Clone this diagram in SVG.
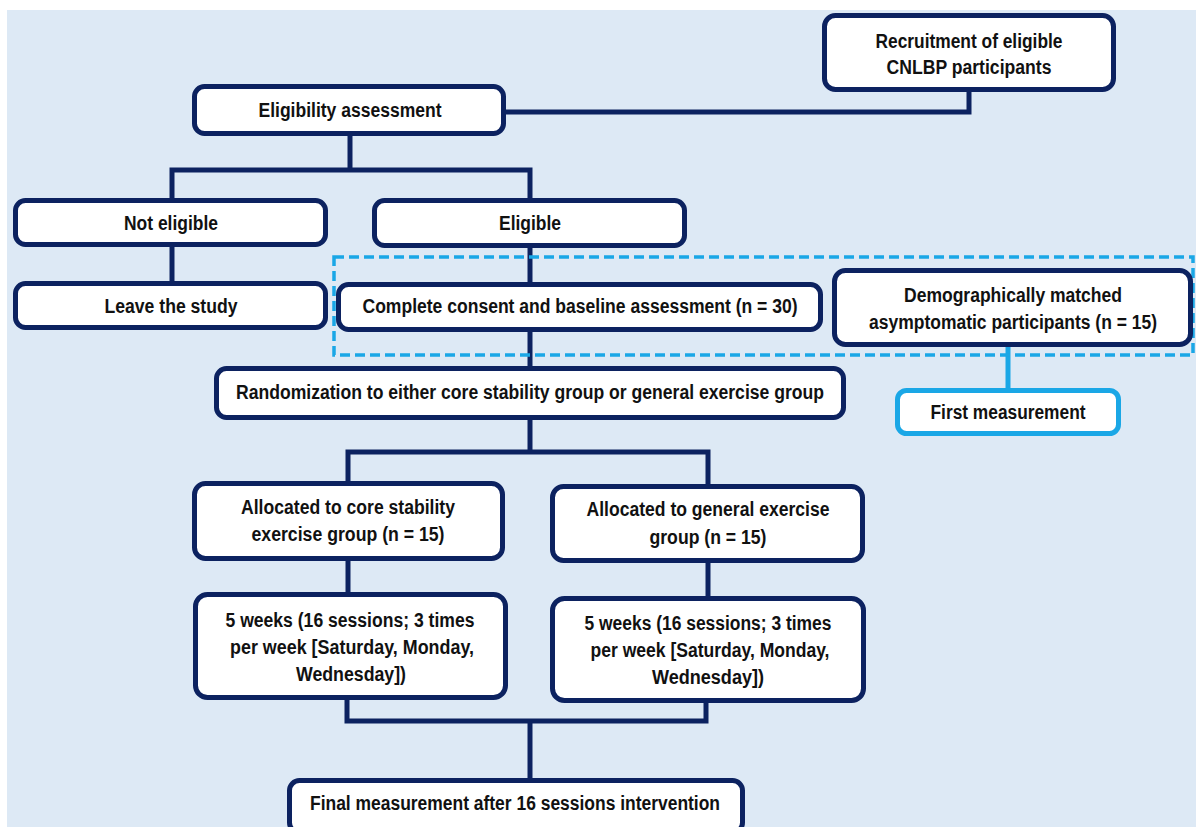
<svg xmlns="http://www.w3.org/2000/svg" width="1196" height="827" viewBox="0 0 1196 827">
<style>
.box{fill:#ffffff;stroke:#0c2260;stroke-width:5}
.blue{fill:#ffffff;stroke:#1aa7e6;stroke-width:5}
.ln{fill:none;stroke:#0c2260;stroke-width:5}
.lnb{fill:none;stroke:#1aa7e6;stroke-width:5}
.dash{fill:none;stroke:#1aa7e6;stroke-width:3.5;stroke-dasharray:10 5}
text{font-family:"Liberation Sans Narrow","Liberation Sans",Arial,sans-serif;font-weight:bold;font-size:20px;fill:#111111;text-anchor:middle}
</style>
<rect x="0" y="0" width="1196" height="827" fill="#ffffff"/>
<rect x="7" y="10" width="1189" height="817" fill="#dde9f5"/>
<g id="connectors">
<path class="ln" d="M969 92 V112 H506"/>
<path class="ln" d="M350 136 V170"/>
<path class="ln" d="M172 198 V170 H530 V198"/>
<path class="ln" d="M172 247 V281"/>
<path class="ln" d="M530 248 V282"/>
<path class="ln" d="M530 332 V366"/>
<path class="ln" d="M530 420 V452"/>
<path class="ln" d="M348 481 V452 H708 V484"/>
<path class="ln" d="M348 561 V592"/>
<path class="ln" d="M708 563 V596"/>
<path class="ln" d="M347 700 V721 H706 V703"/>
<path class="ln" d="M530 721 V778"/>
<path class="lnb" d="M1008 347 V388"/>
</g>
<g id="recruitment">
<rect class="box" x="824.5" y="15.5" width="289" height="74" rx="11"/>
<text x="969" y="48" textLength="187" lengthAdjust="spacingAndGlyphs">Recruitment of eligible</text>
<text x="969" y="74" textLength="165" lengthAdjust="spacingAndGlyphs">CNLBP participants</text>
</g>
<g id="eligibility">
<rect class="box" x="194.5" y="86.5" width="309" height="47" rx="10"/>
<text x="350" y="117" textLength="183" lengthAdjust="spacingAndGlyphs">Eligibility assessment</text>
</g>
<g id="not-eligible">
<rect class="box" x="15.5" y="200.5" width="310" height="44" rx="10"/>
<text x="171" y="230" textLength="94" lengthAdjust="spacingAndGlyphs">Not eligible</text>
</g>
<g id="eligible">
<rect class="box" x="374.5" y="200.5" width="310" height="45" rx="10"/>
<text x="530" y="230" textLength="62" lengthAdjust="spacingAndGlyphs">Eligible</text>
</g>
<g id="leave">
<rect class="box" x="15.5" y="283.5" width="310" height="44" rx="10"/>
<text x="171" y="313" textLength="133" lengthAdjust="spacingAndGlyphs">Leave the study</text>
</g>
<g id="group-frame">
<rect class="dash" x="334" y="257" width="859" height="98"/>
</g>
<g id="consent">
<rect class="box" x="338.5" y="284.5" width="482" height="45" rx="10"/>
<text x="580" y="313" textLength="435" lengthAdjust="spacingAndGlyphs">Complete consent and baseline assessment (n = 30)</text>
</g>
<g id="matched">
<rect class="box" x="834.5" y="270.5" width="356" height="74" rx="11"/>
<text x="1013" y="302" textLength="218" lengthAdjust="spacingAndGlyphs">Demographically matched</text>
<text x="1013" y="329" textLength="288" lengthAdjust="spacingAndGlyphs">asymptomatic participants (n = 15)</text>
</g>
<g id="randomization">
<rect class="box" x="216.5" y="368.5" width="627" height="49" rx="10"/>
<text x="530" y="399" textLength="588" lengthAdjust="spacingAndGlyphs">Randomization to either core stability group or general exercise group</text>
</g>
<g id="first-measurement">
<rect class="blue" x="897.5" y="390.5" width="221" height="43" rx="9"/>
<text x="1008" y="419" textLength="155" lengthAdjust="spacingAndGlyphs">First measurement</text>
</g>
<g id="alloc-core">
<rect class="box" x="194.5" y="483.5" width="308" height="75" rx="11"/>
<text x="348" y="514" textLength="214" lengthAdjust="spacingAndGlyphs">Allocated to core stability</text>
<text x="348" y="541" textLength="193" lengthAdjust="spacingAndGlyphs">exercise group (n = 15)</text>
</g>
<g id="alloc-general">
<rect class="box" x="552.5" y="486.5" width="310" height="74" rx="11"/>
<text x="708" y="516" textLength="243" lengthAdjust="spacingAndGlyphs">Allocated to general exercise</text>
<text x="708" y="544" textLength="117" lengthAdjust="spacingAndGlyphs">group (n = 15)</text>
</g>
<g id="weeks-core">
<rect class="box" x="195.5" y="594.5" width="310" height="103" rx="12"/>
<text x="350" y="627" textLength="249" lengthAdjust="spacingAndGlyphs">5 weeks (16 sessions; 3 times</text>
<text x="352" y="654" textLength="244" lengthAdjust="spacingAndGlyphs">per week [Saturday, Monday,</text>
<text x="351" y="681" textLength="110" lengthAdjust="spacingAndGlyphs">Wednesday])</text>
</g>
<g id="weeks-general">
<rect class="box" x="552.5" y="598.5" width="311" height="102" rx="12"/>
<text x="708" y="630" textLength="247" lengthAdjust="spacingAndGlyphs">5 weeks (16 sessions; 3 times</text>
<text x="710" y="657" textLength="239" lengthAdjust="spacingAndGlyphs">per week [Saturday, Monday,</text>
<text x="708" y="684" textLength="112" lengthAdjust="spacingAndGlyphs">Wednesday])</text>
</g>
<g id="final">
<rect class="box" x="289.5" y="780.5" width="453" height="52" rx="10"/>
<text x="515" y="810" textLength="410" lengthAdjust="spacingAndGlyphs">Final measurement after 16 sessions intervention</text>
</g>
</svg>
